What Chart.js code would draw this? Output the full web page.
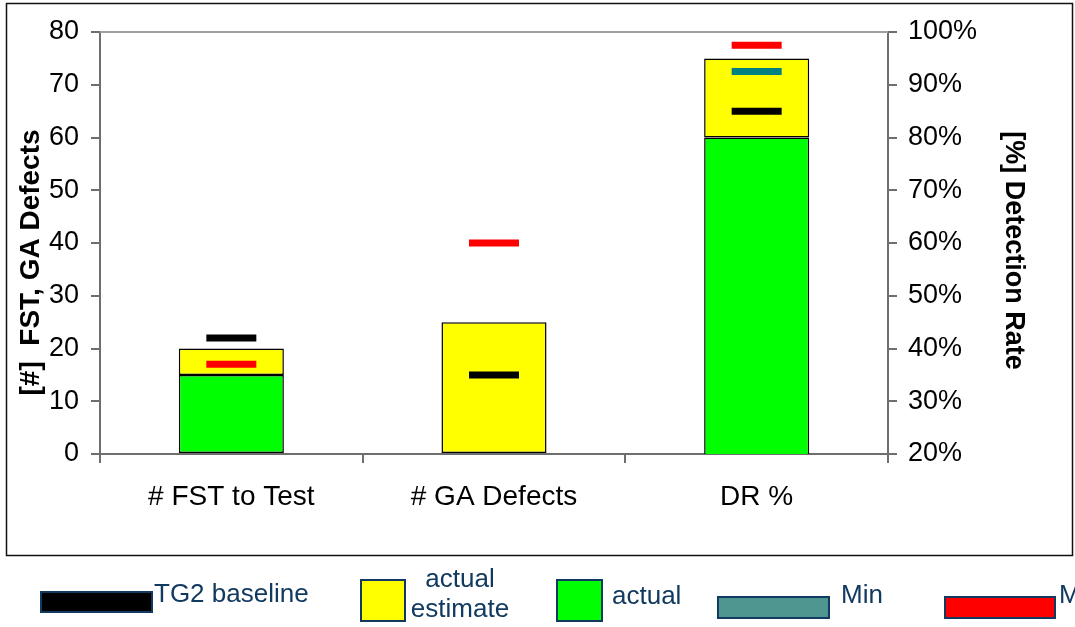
<!DOCTYPE html>
<html>
<head>
<meta charset="utf-8">
<script src="https://cdn.jsdelivr.net/npm/chart.js@4/dist/chart.umd.min.js"></script>
<style>
  html, body { margin: 0; padding: 0; background: #fff; }
  canvas { display: block; }
</style>
</head>
<body>
<canvas id="c" width="1075" height="627"></canvas>
<script>
// Categories along the x axis
const categories = ['# FST to Test', '# GA Defects', 'DR %'];

// Counts, read on the left axis
const actualCount   = [15, null, null];
const estimateCount = [5, 25, null];   // stacked on top of actual
const baselineCount = [22, 15, null];
const maxCount      = [17, 40, null];

// Detection rate in percent, read on the right axis
const actualRate   = [null, null, 80];
const estimateRate = [null, null, 15]; // stacked on top of actual
const baselineRate = [null, null, 85];
const minRate      = [null, null, 92.5];
const maxRate      = [null, null, 97.5];

// Axis ranges
const countRange = [0, 80, 10];
const rateRange  = [20, 100, 10];

// Legend texts
const legendLabels = ['TG2 baseline', ['actual', 'estimate'], 'actual', 'Min', 'Max'];

const COLORS = {
  baseline: '#000000',
  estimate: '#ffff00',
  actual: '#00ff00',
  min: '#008080',
  minKey: '#4f9690',
  max: '#ff0000',
  legendText: '#123a60',
  legendEdge: '#123a60',
  axis: '#6e6e6e'
};

const FONT = "'Liberation Sans', Arial, Helvetica, sans-serif";

function barSet(label, data, color, axis) {
  return {
    type: 'bar', label, data, yAxisID: axis, stack: 'bars',
    backgroundColor: color, borderColor: '#000', borderWidth: 1.5,
    borderSkipped: false, barPercentage: 0.4, categoryPercentage: 1.0, order: 2
  };
}
function markSet(label, data, color, axis) {
  return {
    type: 'line', label, data, yAxisID: axis, showLine: false,
    pointStyle: 'line', pointRadius: 25, pointHoverRadius: 25,
    pointBorderWidth: 7, pointHoverBorderWidth: 7,
    borderColor: color, backgroundColor: color, order: 1
  };
}

// Frame around the figure, top edge of the plot and the legend row
const decorations = {
  id: 'decorations',
  beforeDraw(chart) {
    const ctx = chart.ctx;
    ctx.save();
    ctx.fillStyle = '#fff';
    ctx.fillRect(0, 0, chart.width, chart.height);
    ctx.restore();
  },
  afterDraw(chart) {
    const { ctx, chartArea: a } = chart;
    ctx.save();
    // outer frame
    ctx.strokeStyle = '#111';
    ctx.lineWidth = 1.5;
    ctx.strokeRect(6.5, 3.5, 1066, 552);
    // top edge of the plot
    ctx.strokeStyle = '#a0a0a0';
    ctx.lineWidth = 2;
    ctx.beginPath();
    ctx.moveTo(a.left, a.top);
    ctx.lineTo(a.right, a.top);
    ctx.stroke();

    // legend keys
    const keys = [
      { color: COLORS.baseline, box: [41, 592, 111, 20], text: [154, 595], align: 'left' },
      { color: COLORS.estimate, box: [361, 580, 44, 41], text: [460, 580, 610], align: 'center' },
      { color: COLORS.actual,   box: [557, 580, 45, 41], text: [612, 597], align: 'left' },
      { color: COLORS.minKey,   box: [718, 597, 111, 21], text: [841, 596], align: 'left' },
      { color: COLORS.max,      box: [945, 597, 110, 21], text: [1059, 596], align: 'left' }
    ];
    ctx.font = '26px ' + FONT;
    ctx.textBaseline = 'middle';
    keys.forEach((k, i) => {
      const [x, y, w, h] = k.box;
      ctx.fillStyle = k.color;
      ctx.fillRect(x, y, w, h);
      ctx.strokeStyle = COLORS.legendEdge;
      ctx.lineWidth = 2;
      ctx.strokeRect(x, y, w, h);
      ctx.fillStyle = COLORS.legendText;
      ctx.textAlign = k.align;
      const label = legendLabels[i];
      if (Array.isArray(label)) {
        label.forEach((line, j) => ctx.fillText(line, k.text[0], k.text[1 + j]));
      } else {
        ctx.fillText(label, k.text[0], k.text[1]);
      }
    });
    ctx.restore();
  }
};

const tickFont = { family: FONT, size: 27 };

new Chart(document.getElementById('c'), {
  data: {
    labels: categories,
    datasets: [
      barSet('actual', actualCount, COLORS.actual, 'y'),
      barSet('actual estimate', estimateCount, COLORS.estimate, 'y'),
      barSet('actual', actualRate, COLORS.actual, 'y2'),
      barSet('actual estimate', estimateRate, COLORS.estimate, 'y2'),
      markSet('TG2 baseline', baselineCount, COLORS.baseline, 'y'),
      markSet('Max', maxCount, COLORS.max, 'y'),
      markSet('TG2 baseline', baselineRate, COLORS.baseline, 'y2'),
      markSet('Min', minRate, COLORS.min, 'y2'),
      markSet('Max', maxRate, COLORS.max, 'y2')
    ]
  },
  options: {
    responsive: false,
    devicePixelRatio: 1,
    animation: false,
    layout: { padding: { left: 0, right: 37, top: 30, bottom: 93 } },
    plugins: { legend: { display: false }, tooltip: { enabled: false } },
    scales: {
      x: {
        type: 'category',
        offset: true,
        afterFit(s) { s.height = 80; },
        grid: { display: true, drawOnChartArea: false, offset: true, tickLength: 9, color: COLORS.axis, lineWidth: 2 },
        border: { display: true, color: COLORS.axis, width: 2 },
        ticks: { color: '#000', font: { family: FONT, size: 28 }, padding: 17, maxRotation: 0 }
      },
      y: {
        position: 'left',
        min: countRange[0], max: countRange[1],
        afterFit(s) { s.width = 100; },
        grid: { drawOnChartArea: false, tickLength: 9, color: COLORS.axis, lineWidth: 2 },
        border: { display: true, color: COLORS.axis, width: 2 },
        ticks: { stepSize: countRange[2], color: '#000', font: tickFont, padding: 12 },
        title: { display: true, text: '[#]  FST, GA Defects     ', color: '#000',
                 font: { family: FONT, size: 28, weight: 'bold' }, padding: { top: 14, bottom: 0 } }
      },
      y2: {
        position: 'right',
        min: rateRange[0], max: rateRange[1],
        afterFit(s) { s.width = 150; },
        grid: { drawOnChartArea: false, tickLength: 9, color: COLORS.axis, lineWidth: 2 },
        border: { display: true, color: COLORS.axis, width: 2 },
        ticks: { stepSize: rateRange[2], color: '#000', font: tickFont, padding: 11,
                 callback: v => v + '%' },
        title: { display: true, text: '  [%] Detection Rate', color: '#000',
                 font: { family: FONT, size: 27, weight: 'bold' }, padding: { top: 8, bottom: 0 } }
      }
    }
  },
  plugins: [decorations]
});
</script>
</body>
</html>
